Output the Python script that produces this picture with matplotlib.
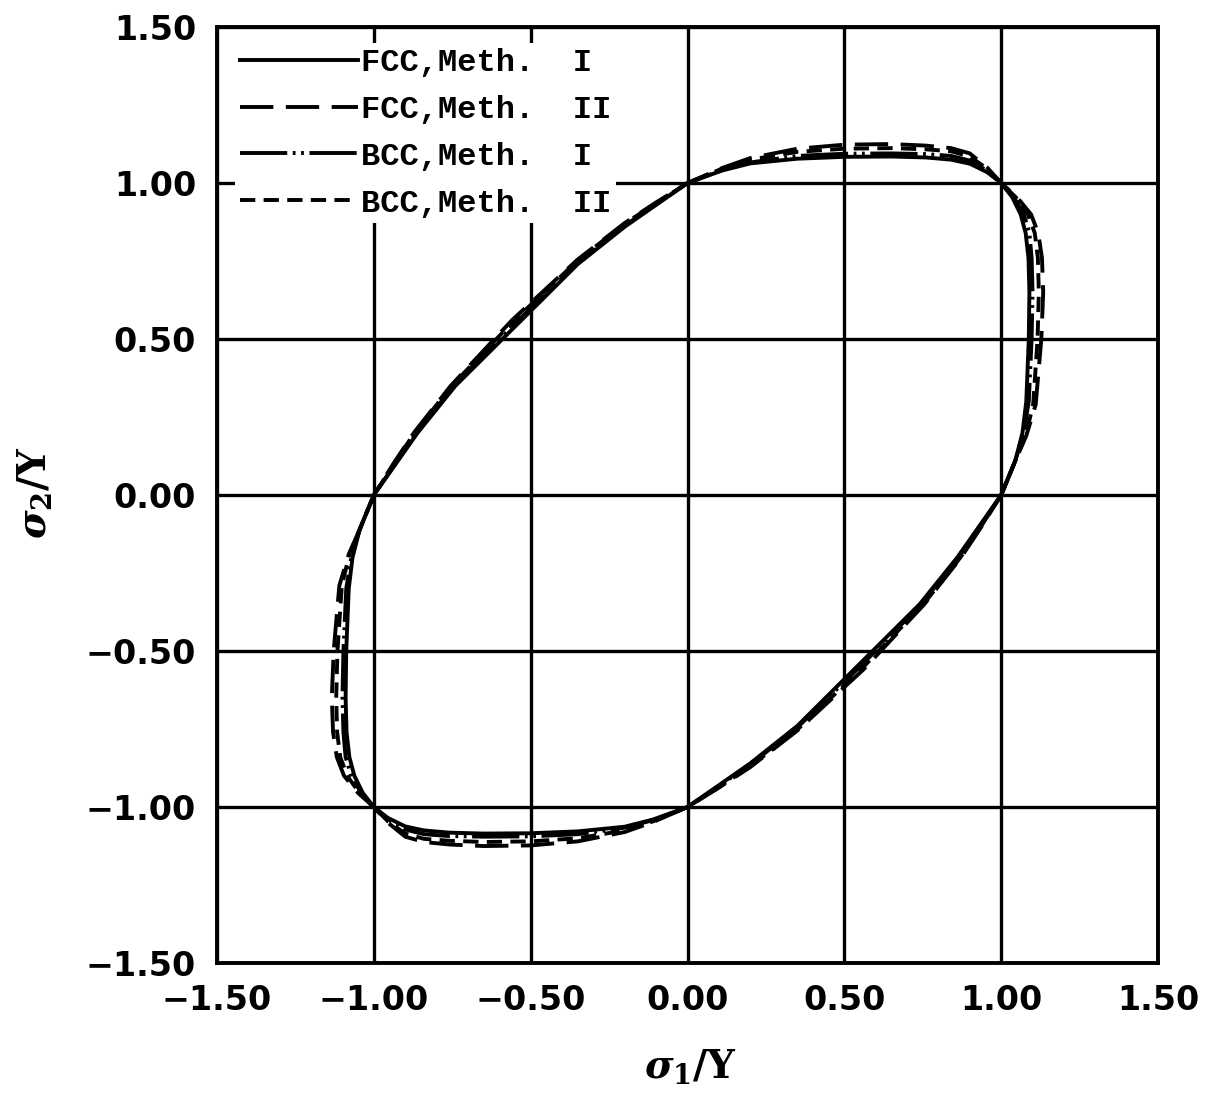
import matplotlib.pyplot as plt

# Yield loci, (sigma1/Y, sigma2/Y) pairs,
# going round each curve counter-clockwise from (1, 0).

fcc_meth1 = [
    (1.000, 0.000), (1.045, 0.110), (1.068, 0.200), (1.080, 0.300), (1.088, 0.500),
    (1.090, 0.650), (1.087, 0.760), (1.078, 0.840), (1.062, 0.900), (1.035, 0.955), (1.000, 1.000),
    (0.955, 1.035), (0.900, 1.062), (0.840, 1.075), (0.760, 1.082), (0.650, 1.085), (0.500, 1.084),
    (0.350, 1.078), (0.200, 1.063), (0.110, 1.040), (0.000, 1.000),
    (-0.100, 0.930), (-0.200, 0.860), (-0.350, 0.740), (-0.545, 0.545),
    (-0.740, 0.350), (-0.860, 0.200), (-0.930, 0.100), (-1.000, 0.000),
    (-1.045, -0.110), (-1.068, -0.200), (-1.080, -0.300), (-1.088, -0.500),
    (-1.090, -0.650), (-1.087, -0.760), (-1.078, -0.840), (-1.062, -0.900), (-1.035, -0.955), (-1.000, -1.000),
    (-0.955, -1.035), (-0.900, -1.062), (-0.840, -1.075), (-0.760, -1.082), (-0.650, -1.085), (-0.500, -1.084),
    (-0.350, -1.078), (-0.200, -1.063), (-0.110, -1.040), (0.000, -1.000),
    (0.100, -0.930), (0.200, -0.860), (0.350, -0.740), (0.545, -0.545),
    (0.740, -0.350), (0.860, -0.200), (0.930, -0.100), (1.000, 0.000),
]

fcc_meth2 = [
    (1.000, 0.000), (1.045, 0.110), (1.080, 0.190), (1.110, 0.290), (1.128, 0.500),
    (1.134, 0.650), (1.130, 0.760), (1.118, 0.840), (1.095, 0.900), (1.050, 0.955), (1.000, 1.000),
    (0.955, 1.050), (0.900, 1.095), (0.840, 1.112), (0.760, 1.120), (0.650, 1.125), (0.500, 1.123),
    (0.350, 1.110), (0.200, 1.080), (0.110, 1.048), (0.000, 1.000),
    (-0.100, 0.938), (-0.200, 0.872), (-0.350, 0.755), (-0.560, 0.560),
    (-0.755, 0.350), (-0.872, 0.200), (-0.938, 0.100), (-1.000, 0.000),
    (-1.045, -0.110), (-1.080, -0.190), (-1.110, -0.290), (-1.128, -0.500),
    (-1.134, -0.650), (-1.130, -0.760), (-1.118, -0.840), (-1.095, -0.900), (-1.050, -0.955), (-1.000, -1.000),
    (-0.955, -1.050), (-0.900, -1.095), (-0.840, -1.112), (-0.760, -1.120), (-0.650, -1.125), (-0.500, -1.123),
    (-0.350, -1.110), (-0.200, -1.080), (-0.110, -1.048), (0.000, -1.000),
    (0.100, -0.938), (0.200, -0.872), (0.350, -0.755), (0.560, -0.560),
    (0.755, -0.350), (0.872, -0.200), (0.938, -0.100), (1.000, 0.000),
]

bcc_meth1 = [
    (1.000, 0.000), (1.045, 0.110), (1.072, 0.200), (1.088, 0.300), (1.097, 0.500),
    (1.100, 0.650), (1.097, 0.760), (1.090, 0.840), (1.072, 0.900), (1.040, 0.955), (1.000, 1.000),
    (0.955, 1.040), (0.900, 1.072), (0.840, 1.087), (0.760, 1.093), (0.650, 1.095), (0.500, 1.094),
    (0.350, 1.087), (0.200, 1.066), (0.110, 1.042), (0.000, 1.000),
    (-0.100, 0.932), (-0.200, 0.864), (-0.350, 0.745), (-0.550, 0.550),
    (-0.745, 0.350), (-0.864, 0.200), (-0.932, 0.100), (-1.000, 0.000),
    (-1.045, -0.110), (-1.072, -0.200), (-1.088, -0.300), (-1.097, -0.500),
    (-1.100, -0.650), (-1.097, -0.760), (-1.090, -0.840), (-1.072, -0.900), (-1.040, -0.955), (-1.000, -1.000),
    (-0.955, -1.040), (-0.900, -1.072), (-0.840, -1.087), (-0.760, -1.093), (-0.650, -1.095), (-0.500, -1.094),
    (-0.350, -1.087), (-0.200, -1.066), (-0.110, -1.042), (0.000, -1.000),
    (0.100, -0.932), (0.200, -0.864), (0.350, -0.745), (0.550, -0.550),
    (0.745, -0.350), (0.864, -0.200), (0.932, -0.100), (1.000, 0.000),
]

bcc_meth2 = [
    (1.000, 0.000), (1.045, 0.110), (1.078, 0.190), (1.102, 0.290), (1.116, 0.500),
    (1.120, 0.650), (1.117, 0.760), (1.107, 0.840), (1.085, 0.900), (1.046, 0.955), (1.000, 1.000),
    (0.955, 1.046), (0.900, 1.085), (0.840, 1.102), (0.760, 1.108), (0.650, 1.112), (0.500, 1.110),
    (0.350, 1.100), (0.200, 1.075), (0.110, 1.046), (0.000, 1.000),
    (-0.100, 0.936), (-0.200, 0.870), (-0.350, 0.752), (-0.556, 0.556),
    (-0.752, 0.350), (-0.870, 0.200), (-0.936, 0.100), (-1.000, 0.000),
    (-1.045, -0.110), (-1.078, -0.190), (-1.102, -0.290), (-1.116, -0.500),
    (-1.120, -0.650), (-1.117, -0.760), (-1.107, -0.840), (-1.085, -0.900), (-1.046, -0.955), (-1.000, -1.000),
    (-0.955, -1.046), (-0.900, -1.085), (-0.840, -1.102), (-0.760, -1.108), (-0.650, -1.112), (-0.500, -1.110),
    (-0.350, -1.100), (-0.200, -1.075), (-0.110, -1.046), (0.000, -1.000),
    (0.100, -0.936), (0.200, -0.870), (0.350, -0.752), (0.556, -0.556),
    (0.752, -0.350), (0.870, -0.200), (0.936, -0.100), (1.000, 0.000),
]

labels = ["FCC,Meth.  I", "FCC,Meth.  II", "BCC,Meth.  I", "BCC,Meth.  II"]
ticks = [-1.5, -1.0, -0.5, 0.0, 0.5, 1.0, 1.5]
tick_labels = ["\u22121.50", "\u22121.00", "\u22120.50", "0.00", "0.50", "1.00", "1.50"]

plt.rcParams["mathtext.fontset"] = "custom"
plt.rcParams["mathtext.it"] = "DejaVu Serif:italic:bold"
plt.rcParams["mathtext.rm"] = "DejaVu Serif:bold"
plt.rcParams["lines.scale_dashes"] = False

fig = plt.figure(figsize=(12.15, 10.95), dpi=100)
ax = fig.add_axes([0.1786, 0.1205, 0.7745, 0.8548])

styles = [
    dict(ls="-"),
    dict(dashes=(24, 9)),
    dict(dashes=(34, 4, 2, 4, 2, 4)),
    dict(dashes=(11, 6)),
]
for curve, lab, st in zip([fcc_meth1, fcc_meth2, bcc_meth1, bcc_meth2], labels, styles):
    xs, ys = zip(*curve)
    ax.plot(xs, ys, color="black", lw=2.8, label=lab, zorder=3, **st)

ax.set_xlim(-1.5, 1.5)
ax.set_ylim(-1.5, 1.5)
ax.set_xticks(ticks)
ax.set_yticks(ticks)
ax.set_xticklabels(tick_labels)
ax.set_yticklabels(tick_labels)
ax.tick_params(length=0, pad=15)
for t in ax.get_xticklabels() + ax.get_yticklabels():
    t.set_fontsize(24)
    t.set_fontweight("bold")
    t.set_family("DejaVu Sans")
ax.grid(True, color="black", lw=2.4, zorder=1)
ax.set_axisbelow(True)
for s in ax.spines.values():
    s.set_linewidth(2.8)

leg = ax.legend(loc="upper left", bbox_to_anchor=(0.019, 0.983), borderaxespad=0,
                prop=dict(family="Liberation Mono", weight="bold", size=23),
                handlelength=3.7, handletextpad=0.1, labelspacing=0.53,
                borderpad=0.15, fancybox=False, framealpha=1)
leg.get_frame().set_linewidth(0)
leg.get_frame().set_facecolor("white")
leg.set_zorder(5)

fig.text(690 / 1215, 1 - 1066 / 1095, r"$\sigma_1$/Y", ha="center", va="center",
         fontsize=28, family="DejaVu Serif", weight="bold")
fig.text(34 / 1215, 1 - 493 / 1095, r"$\sigma_2$/Y", ha="center", va="center",
         rotation=90, fontsize=28, family="DejaVu Serif", weight="bold")

fig.savefig("out.png", dpi=100)
